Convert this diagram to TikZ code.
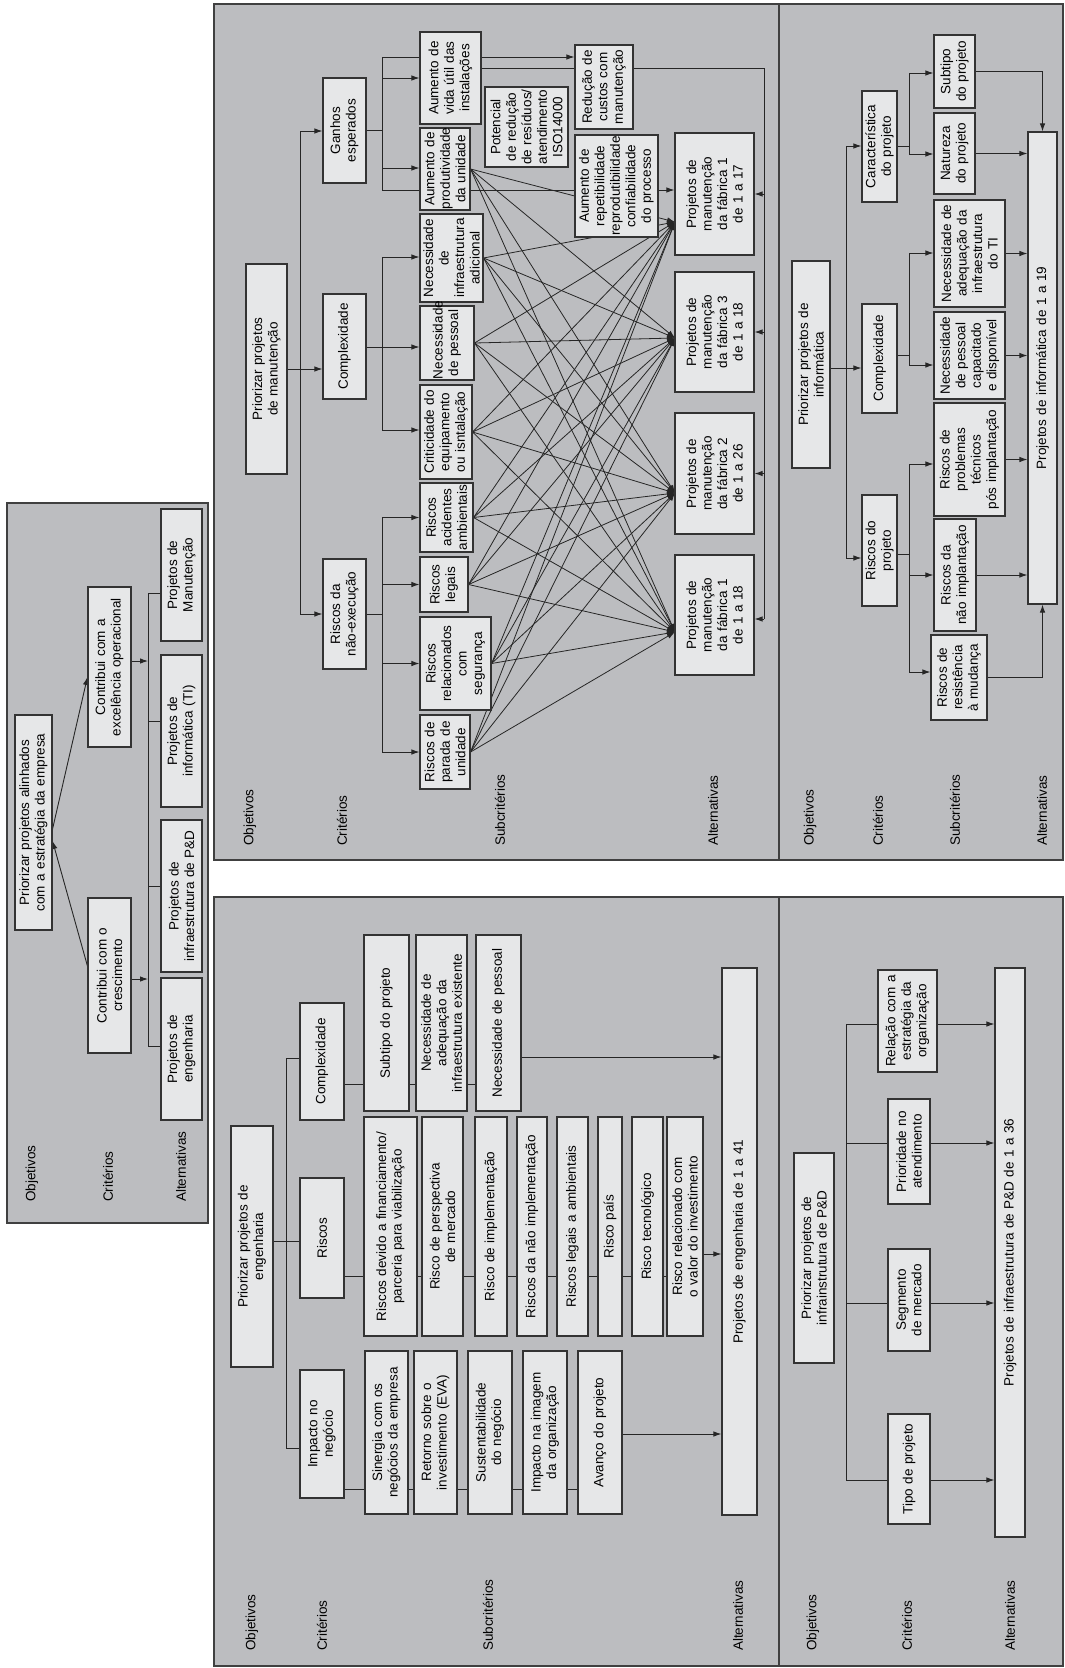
\documentclass[tikz,border=0pt]{standalone}
\usepackage{fontspec}
\setmainfont{Liberation Sans}
\usetikzlibrary{arrows.meta}
\definecolor{panelc}{HTML}{BCBDC0}
\definecolor{boxc}{HTML}{E6E7E8}
\definecolor{edgec}{HTML}{333333}
\pgfdeclarelayer{panel}\pgfdeclarelayer{bg}\pgfsetlayers{panel,bg,main}
\newcommand\bx[7][]{%
  \pgfmathsetmacro\bxcx{(#3+#4)/2}%
  \pgfmathsetmacro\bxcy{(#5+#6)/2}%
  \pgfmathsetmacro\bxw{#6-#5-2}%
  \pgfmathsetmacro\bxh{#4-#3}%
  \node[box,text width=\bxw pt,minimum height=\bxh pt,#1] (#2) at (\bxcx,\bxcy) {#7};%
}
\begin{document}
\begin{tikzpicture}[x=1pt,y=-1pt,
  box/.style={draw=edgec,line width=1.1pt,fill=boxc,rotate=90,align=center,inner xsep=1pt,inner ysep=0pt,font=\fontsize{13.5}{15.5}\selectfont},
  lab/.style={rotate=90,anchor=west,inner sep=0pt,font=\fontsize{13.5}{15.5}\selectfont},
  conn/.style={line width=0.9pt,draw=black!85},
  arr/.style={conn,-{Latex[length=8pt,width=5.5pt]}},
  panelst/.style={draw=black!75,line width=1.4pt,fill=panelc}]
\useasboundingbox (0,0) rectangle (1065,1668);
\begin{pgfonlayer}{panel}
  \draw[panelst] (7,503) rectangle (208,1223);
  \draw[panelst] (214,4) rectangle (1063,860);
  \draw[panelst] (214,897) rectangle (1063,1666);
  \draw[black!75,line width=1.4pt] (779,4) -- (779,860);
  \draw[black!75,line width=1.4pt] (779,897) -- (779,1666);
\end{pgfonlayer}
% ---------- labels
\foreach \x/\t in {32/Objetivos,108/Critérios,181/Alternativas} \node[lab] (lo\x) at (\x,1202) {\t};
\foreach \x/\t in {250/Objetivos,342/Critérios,500/Subcritérios,713/Alternativas,810/Objetivos,878/Critérios,955/Subcritérios,1042/Alternativas} \node[lab] (lt\x) at (\x,846) {\t};
\foreach \x/\t in {252/Objetivos,322/Critérios,488/Subcritérios,738/Alternativas,813/Objetivos,907/Critérios,1010/Alternativas} \node[lab] (lb\x) at (\x,1651) {\t};
% ---------- overview
\bx{ov0}{15}{52}{715}{930}{Priorizar projetos alinhados\\com a estratégia da empresa}
\bx{ovexc}{88}{131}{587}{747}{Contribui com a\\excelência operacional}
\bx{ovcre}{88}{131}{898}{1053}{Contribui com o\\crescimento}
\bx{ovman}{161}{202}{509}{641}{Projetos de\\Manutenção}
\bx{ovti}{161}{202}{655}{807}{Projetos de\\informática (TI)}
\bx{ovpd}{161}{202}{820}{972}{Projetos de\\infraestrutura de P\&D}
\bx{oveng}{161}{202}{978}{1120}{Projetos de\\engenharia}
% ---------- maintenance
\bx{mp}{246}{287}{264}{474}{Priorizar projetos\\de manutenção}
\bx{mg}{323}{366}{78}{183}{Ganhos\\esperados}
\bx{mc}{323}{366}{294}{399}{Complexidade}
\bx{mr}{323}{366}{559}{669}{Riscos da\\não-execução}
\bx{mvida}{420}{481}{32}{124}{Aumento de\\vida útil das\\instalações}
\bx{mprod}{420}{470}{128}{210}{Aumento de\\produtividade\\da unidade}
\bx{mpot}{485}{568}{87}{167}{Potencial\\de redução\\de resíduos/\\atendimento\\ISO14000}
\bx{mred}{575}{633}{45}{129}{Redução de\\custos com\\manutenção}
\bx{mrep}{575}{658}{135}{237}{Aumento de\\repetibilidade\\reprodutibilidade\\confiabilidade\\do processo}
\bx{minf}{420}{483}{214}{302}{Necessidade\\de\\infraestrutura\\adicional}
\bx{mpes}{420}{474}{306}{380}{Necessidade\\de pessoal}
\bx{mcri}{420}{472}{385}{479}{Criticidade do\\equipamento\\ou isntalação}
\bx{macid}{420}{473}{483}{552}{Riscos\\acidentes\\ambientais}
\bx{mleg}{420}{468}{557}{612}{Riscos\\legais}
\bx{mseg}{420}{491}{617}{710}{Riscos\\relacionados\\com\\segurança}
\bx{mpar}{420}{470}{715}{789}{Riscos de\\parada de\\unidade}
\bx{ma1}{675}{754}{133}{255}{Projetos de\\manutenção\\da fábrica 1\\de 1 a 17}
\bx{ma2}{675}{754}{272}{392}{Projetos de\\manutenção\\da fábrica 3\\de 1 a 18}
\bx{ma3}{675}{754}{413}{534}{Projetos de\\manutenção\\da fábrica 2\\de 1 a 26}
\bx{ma4}{675}{754}{555}{675}{Projetos de\\manutenção\\da fábrica 1\\de 1 a 18}
% ---------- informatics
\bx{ip}{792}{830}{261}{468}{Priorizar projetos de\\informática}
\bx{icar}{862}{897}{91}{202}{Característica\\do projeto}
\bx{icx}{862}{897}{304}{413}{Complexidade}
\bx{iri}{862}{897}{495}{606}{Riscos do\\projeto}
\bx{isub}{934}{975}{35}{108}{Subtipo\\do projeto}
\bx{inat}{934}{975}{113}{194}{Natureza\\do projeto}
\bx{iadq}{934}{1005}{200}{307}{Necessidade de\\adequação da\\infraestrutura\\do TI}
\bx{ipes}{934}{1005}{312}{399}{Necessidade\\de pessoal\\capacitado\\e disponível}
\bx{itec}{934}{1005}{403}{516}{Riscos de\\problemas\\técnicos\\pós implantação}
\bx{inao}{934}{976}{519}{631}{Riscos da\\não implantação}
\bx{ires}{931}{987}{635}{720}{Riscos de\\resistência\\à mudança}
\bx{ialt}{1028}{1057}{132}{604}{Projetos de informática de 1 a 19}
% ---------- engineering
\bx{ep}{231}{273}{1126}{1367}{Priorizar projetos de\\engenharia}
\bx{ecx}{300}{344}{1003}{1120}{Complexidade}
\bx{eri}{300}{344}{1178}{1298}{Riscos}
\bx{eimp}{300}{344}{1370}{1498}{Impacto no\\negócio}
\bx{es1}{365}{408}{1351}{1514}{Sinergia com os\\negócios da empresa}
\bx{es2}{414}{457}{1351}{1514}{Retorno sobre o\\investimento (EVA)}
\bx{es3}{468}{512}{1351}{1514}{Sustentabilidade\\do negócio}
\bx{es4}{523}{567}{1351}{1514}{Impacto na imagem\\da organização}
\bx{es5}{578}{622}{1351}{1514}{Avanço do projeto}
\bx{er1}{364}{417}{1117}{1336}{Riscos devido a financiamento/\\parceria para viabilização}
\bx{er2}{422}{463}{1117}{1336}{Risco de perspectiva\\de mercado}
\bx{er3}{475}{507}{1117}{1336}{Risco de implementação}
\bx{er4}{517}{547}{1117}{1336}{Riscos da não implementação}
\bx{er5}{557}{588}{1117}{1336}{Riscos legais a ambientais}
\bx{er6}{598}{622}{1117}{1336}{Risco país}
\bx{er7}{632}{663}{1117}{1336}{Risco tecnológico}
\bx{er8}{667}{703}{1117}{1336}{Risco relacionado com\\o valor do investimento}
\bx{ec1}{364}{409}{935}{1111}{Subtipo do projeto}
\bx{ec2}{416}{467}{935}{1111}{Necessidade de\\adequação da\\infraestrutura existente}
\bx{ec3}{476}{521}{935}{1111}{Necessidade de pessoal}
\bx{ealt}{722}{757}{968}{1515}{Projetos de engenharia de 1 a 41}
% ---------- P&D
\bx{pp}{794}{834}{1153}{1363}{Priorizar projetos de\\infrainstrutura de P\&D}
\bx{prel}{878}{937}{970}{1072}{Relação com a\\estratégia da\\organização}
\bx{ppri}{888}{930}{1099}{1204}{Prioridade no\\atendimento}
\bx{pseg}{888}{930}{1249}{1351}{Segmento\\de mercado}
\bx{ptip}{888}{930}{1414}{1524}{Tipo de projeto}
\bx{palt}{995}{1025}{968}{1537}{Projetos de infraestrutura de P\&D de 1 a 36}
% ================= connectors
\begin{pgfonlayer}{bg}
% overview
\draw[arr] (ovcre.north |- 0,966) -- (ov0.south |- 0,841);
\draw[arr] (ov0.south |- 0,829) -- (ovexc.north |- 0,677);
\coordinate (ovb1) at (148,593); \coordinate (ovb2) at (148,1046);
\draw[conn] (ovb1) -- (ovb2);
\draw[arr] (ovexc.south |- 0,661) -- (ovb1 |- 0,661);
\draw[arr] (ovcre.south |- 0,979) -- (ovb1 |- 0,979);
\foreach \n/\y in {ovman/593,ovti/721,ovpd/886,oveng/1046} \draw[conn] (ovb1 |- 0,\y) -- (\n.north |- 0,\y);
% maintenance
\coordinate (mb1) at (300,131); \coordinate (mb2) at (300,614);
\draw[conn] (mb1) -- (mb2);
\draw[arr] (mb1) -- (mg.north |- mb1);
\draw[arr] (mb2) -- (mr.north |- mb2);
\draw[arr] (mp.south |- 0,369) -- (mc.north |- 0,369);
\coordinate (gb1) at (382,57); \coordinate (gb2) at (382,190);
\draw[conn] (gb1) -- (gb2);
\draw[conn] (mg.south) -- (mg.south -| gb1);
\draw[arr] (gb1 |- 0,78) -- (mvida.north |- 0,78);
\draw[arr] (gb1 |- 0,168) -- (mprod.north |- 0,168);
\draw[arr] (gb1) -- (mred.north |- gb1);
\draw[arr] (gb2) -- (ma1.north |- gb2);
\coordinate (rb1) at (764,68); \coordinate (rb2) at (764,619);
\draw[conn] (mvida.south |- rb1) -- (rb1) -- (rb2);
\foreach \n in {ma1,ma2,ma3} \draw[arr] (rb1 |- \n.south) -- (\n.south);
\draw[arr] (rb2) -- (ma4.south |- rb2);
\coordinate (cb1) at (382,257); \coordinate (cb2) at (382,430);
\draw[conn] (cb1) -- (cb2);
\draw[arr] (mc.south |- 0,347) -- (mpes.north |- 0,347);
\draw[arr] (cb1) -- (minf.north |- cb1);
\draw[arr] (cb2) -- (mcri.north |- cb2);
\coordinate (kb1) at (382,517); \coordinate (kb2) at (382,752);
\draw[conn] (kb1) -- (kb2);
\draw[conn] (mr.south) -- (mr.south -| kb1);
\foreach \n in {macid,mleg,mseg,mpar} \draw[arr] (kb1 |- \n.north) -- (\n.north);
\coordinate (t1) at (675,222); \coordinate (t2) at (675,338);
\coordinate (t3) at (675,493); \coordinate (t4) at (675,632);
\foreach \s in {mprod,minf,mpes,mcri,macid,mleg,mseg,mpar}
  \foreach \t in {t1,t2,t3,t4}
    \draw[arr,line width=0.8pt] (\s.south) -- (\t);
% informatics
\coordinate (ib1) at (846,146); \coordinate (ib2) at (846,558);
\draw[conn] (ib1) -- (ib2);
\draw[arr] (ib1) -- (icar.north |- ib1);
\draw[arr] (ib2) -- (iri.north |- ib2);
\draw[arr] (ip.south |- 0,368) -- (icx.north |- 0,368);
\coordinate (jb1) at (909,73); \coordinate (jb2) at (909,154);
\draw[conn] (jb1) -- (jb2);
\draw[conn] (icar.south) -- (icar.south -| jb1);
\draw[arr] (jb1) -- (isub.north |- jb1);
\draw[arr] (jb2) -- (inat.north |- jb2);
\coordinate (jb3) at (909,253); \coordinate (jb4) at (909,365);
\draw[conn] (jb3) -- (jb4);
\draw[conn] (icx.south |- 0,355) -- (jb3 |- 0,355);
\draw[arr] (jb3) -- (iadq.north |- jb3);
\draw[arr] (jb4) -- (ipes.north |- jb4);
\coordinate (jb5) at (909,464); \coordinate (jb6) at (909,672);
\draw[conn] (jb5) -- (jb6);
\draw[conn] (iri.south |- 0,554) -- (jb5 |- 0,554);
\draw[arr] (jb5) -- (itec.north |- jb5);
\draw[arr] (jb5 |- 0,575) -- (inao.north |- 0,575);
\draw[arr] (jb6) -- (ires.north |- jb6);
\draw[arr] (isub.south) -| (ialt.east);
\draw[arr] (ires.south) -| (ialt.west);
\foreach \n in {inat,iadq,ipes,itec,inao} \draw[arr] (\n.south) -- (\n.south -| ialt.north);
% engineering
\coordinate (eb1) at (286,1058); \coordinate (eb2) at (286,1448);
\draw[conn] (eb1) -- (eb2);
\draw[conn] (eb1) -- (ecx.north |- eb1);
\draw[conn] (eb2) -- (eimp.north |- eb2);
\draw[conn] (ep.south |- 0,1241) -- (eri.north |- 0,1241);
\draw[conn] (eimp.south |- 0,1489) -- (es5.center |- 0,1489);
\draw[arr] (es5.south |- 0,1434) -- (ealt.north |- 0,1434);
\draw[conn] (eri.south |- 0,1276) -- (er8.center |- 0,1276);
\draw[arr] (er8.south |- 0,1254) -- (ealt.north |- 0,1254);
\draw[conn] (ecx.south |- 0,1084) -- (ec3.center |- 0,1084);
\draw[arr] (ec3.south |- 0,1057) -- (ealt.north |- 0,1057);
% P&D
\coordinate (pb1) at (846,1024); \coordinate (pb2) at (846,1480);
\draw[conn] (pb1) -- (pb2);
\foreach \y in {1024,1143,1303,1480} \draw[arr] (pb1 |- 0,\y) -- (palt.north |- 0,\y);
\end{pgfonlayer}
\end{tikzpicture}
\end{document}
